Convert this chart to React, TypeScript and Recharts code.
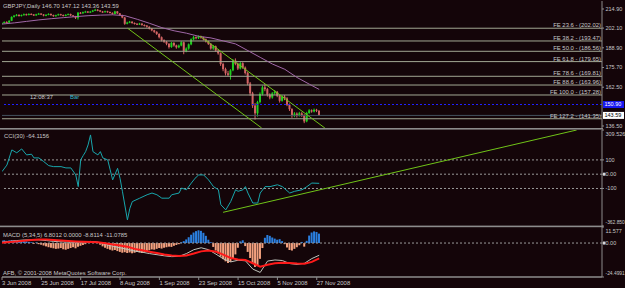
import { ComposedChart, Bar, Line, XAxis, YAxis, ReferenceLine, Cell } from 'recharts'

// daily GBPJPY bars, 3 Jun 2008 .. 28 Nov 2008 (index = bar number)
const opens = [
  205.0, 205.6, 206.2, 205.8, 207.0, 209.6, 210.4, 211.0, 210.2, 210.8,
  211.4, 210.9, 211.6, 211.2, 210.6, 211.3, 211.8, 211.2, 210.5, 211.0,
  211.6, 210.8, 210.1, 210.7, 211.4, 210.9, 210.3, 211.0, 211.5, 210.6,
  210.0, 209.0, 212.4, 212.0, 212.8, 213.2, 212.6, 213.1, 213.8, 214.4,
  213.9, 213.2, 212.8, 213.4, 212.9, 212.3, 211.6, 213.3, 212.0, 210.8,
  209.2, 205.0, 205.8, 206.4, 205.5, 205.0, 204.6, 205.1, 204.2, 203.8,
  203.0, 201.8, 200.6, 199.6, 198.2, 196.0, 194.0, 193.0, 191.6, 189.4,
  192.2, 190.5, 189.2, 190.4, 192.6, 186.8, 188.4, 191.2, 194.6, 196.0,
  195.4, 196.6, 195.8, 194.6, 193.2, 191.6, 188.4, 189.9, 187.0, 185.2,
  178.0, 174.6, 171.8, 170.8, 173.8, 180.4, 178.2, 175.0, 178.6, 175.6,
  172.0, 165.0, 158.4, 150.2, 145.0, 152.5, 158.0, 162.4, 161.2, 157.5,
  155.6, 158.4, 159.4, 156.8, 153.4, 156.2, 155.0, 150.8, 147.8, 143.4,
  144.8, 143.2, 145.0, 143.8, 139.6, 145.2, 147.0, 146.2, 147.4, 146.7,
]
const highs = [
  206.0, 206.6, 206.7, 207.4, 210.0, 210.9, 211.5, 211.3, 211.2, 211.9,
  211.8, 212.0, 212.0, 211.5, 211.7, 212.3, 212.1, 211.5, 211.4, 212.0,
  211.9, 211.1, 211.1, 211.8, 211.7, 211.2, 211.4, 211.9, 211.8, 210.9,
  210.3, 212.9, 212.9, 213.2, 213.7, 213.5, 213.6, 214.3, 215.0, 214.8,
  214.2, 213.6, 213.8, 213.7, 213.2, 212.6, 213.7, 213.5, 212.2, 211.1,
  209.5, 206.4, 206.9, 206.7, 205.9, 205.4, 205.6, 205.4, 204.6, 204.1,
  203.3, 202.2, 201.0, 200.0, 198.6, 196.5, 194.6, 193.5, 192.0, 192.8,
  192.6, 191.0, 191.1, 193.3, 193.0, 189.2, 191.8, 195.2, 196.8, 196.6,
  197.2, 197.0, 196.3, 195.1, 193.7, 192.1, 190.8, 190.4, 187.8, 185.8,
  178.9, 175.6, 173.4, 174.6, 181.4, 181.8, 179.0, 179.4, 179.2, 176.4,
  172.8, 166.0, 159.4, 151.8, 153.4, 159.0, 163.6, 164.4, 162.0, 158.4,
  159.2, 160.6, 160.0, 157.6, 157.0, 157.2, 155.8, 151.6, 148.4, 145.8,
  145.6, 146.0, 145.8, 144.4, 146.0, 147.8, 147.6, 148.2, 148.0, 147.12,
]
const lows = [
  204.5, 205.2, 205.3, 205.5, 206.8, 209.2, 210.0, 209.8, 209.9, 210.5,
  210.5, 210.6, 210.8, 210.2, 210.3, 211.0, 210.9, 210.0, 210.1, 210.7,
  210.4, 209.7, 209.8, 210.4, 210.5, 209.9, 210.0, 210.7, 210.2, 209.5,
  208.2, 207.8, 211.5, 211.7, 212.4, 212.2, 212.3, 212.8, 213.5, 213.4,
  212.8, 212.3, 212.5, 212.4, 211.9, 211.1, 211.3, 211.6, 210.3, 208.7,
  204.3, 204.6, 205.4, 205.0, 204.5, 204.1, 204.2, 203.7, 203.2, 202.4,
  201.2, 200.0, 198.9, 197.5, 195.2, 193.2, 192.2, 190.6, 188.4, 188.9,
  189.7, 188.3, 188.6, 189.9, 184.6, 185.9, 187.6, 190.6, 193.9, 194.6,
  194.8, 195.0, 193.9, 192.4, 190.8, 187.6, 187.5, 186.2, 184.3, 176.8,
  173.2, 170.4, 169.8, 167.6, 173.2, 177.2, 174.0, 174.4, 174.8, 171.0,
  163.8, 156.8, 148.6, 140.8, 142.8, 151.6, 157.0, 159.8, 156.2, 154.4,
  154.8, 157.4, 155.8, 152.2, 152.8, 153.8, 149.8, 146.6, 142.0, 142.4,
  142.2, 142.8, 142.6, 138.4, 139.0, 144.6, 145.4, 145.6, 145.8, 143.36,
]
const closes = [
  205.6, 206.2, 205.8, 207.0, 209.6, 210.4, 211.0, 210.2, 210.8, 211.4,
  210.9, 211.6, 211.2, 210.6, 211.3, 211.8, 211.2, 210.5, 211.0, 211.6,
  210.8, 210.1, 210.7, 211.4, 210.9, 210.3, 211.0, 211.5, 210.6, 210.0,
  209.0, 212.4, 212.0, 212.8, 213.2, 212.6, 213.1, 213.8, 214.4, 213.9,
  213.2, 212.8, 213.4, 212.9, 212.3, 211.6, 213.3, 212.0, 210.8, 209.2,
  205.0, 205.8, 206.4, 205.5, 205.0, 204.6, 205.1, 204.2, 203.8, 203.0,
  201.8, 200.6, 199.6, 198.2, 196.0, 194.0, 193.0, 191.6, 189.4, 192.2,
  190.5, 189.2, 190.4, 192.6, 186.8, 188.4, 191.2, 194.6, 196.0, 195.4,
  196.6, 195.8, 194.6, 193.2, 191.6, 188.4, 189.9, 187.0, 185.2, 178.0,
  174.6, 171.8, 170.8, 173.8, 180.4, 178.2, 175.0, 178.6, 175.6, 172.0,
  165.0, 158.4, 150.2, 145.0, 152.5, 158.0, 162.4, 161.2, 157.5, 155.6,
  158.4, 159.4, 156.8, 153.4, 156.2, 155.0, 150.8, 147.8, 143.4, 144.8,
  143.2, 145.0, 143.8, 139.6, 145.2, 147.0, 146.2, 147.4, 146.7, 143.59,
]

// moving average, read every few bars
const maBars = [0, 5, 10, 15, 20, 25, 30, 35, 40, 45, 50, 55, 60, 65, 70, 75, 80, 85, 90, 95, 100, 105, 110, 115, 120, 125, 129]
const maValues = [204.8, 205.6, 206.6, 207.6, 208.4, 209.1, 209.8, 210.4, 210.8, 211.0, 210.4, 208.0, 205.3, 202.4, 200.3, 198.7, 196.6, 195.5, 193.5, 191.5, 187.0, 182.5, 178.0, 174.5, 169.0, 164.5, 161.0]

// CCI(30)
const cciBars = [0, 2, 4, 6, 8, 10, 12, 13, 15, 17, 19, 21, 24, 26, 28, 30, 31, 32, 33, 34, 35, 36, 37, 39, 40, 41, 43, 44, 45, 47, 48, 49, 51, 52, 53, 56, 59, 61, 63, 65, 68, 69, 72, 73, 75, 77, 78, 79, 80, 82, 84, 86, 88, 89, 91, 93, 95, 96, 98, 99, 100, 102, 104, 105, 107, 109, 112, 114, 117, 119, 122, 124, 126, 129]
const cciValues = [18, 64, 170, 150, 177, 135, 140, 114, 114, 88, 60, 53, 53, 44, 44, -5, -87, 100, 130, 158, 205, 275, 158, 135, 158, 114, 100, 30, -40, 41, -29, -123, -320, -239, -192, -168, -144, -132, -144, -168, -168, -144, -132, -97, -109, -62, -40, -20, -5, -5, -40, -87, -109, -214, -250, -192, -109, -120, -109, -87, -132, -202, -202, -132, -87, -87, -74, -87, -132, -120, -109, -87, -62, -64.1]

// MACD(5,34,5)
const macdHist = [
  1.8, 2.0, 1.6, 1.9, 2.2, 2.0, 1.7, 1.5, 1.8, 1.4,
  1.2, 0.8, 0.5, -0.6, 0.4, -0.8, -1.2, -1.8, -2.4, -3.0,
  -3.4, -3.8, -4.2, -4.0, -3.6, -4.4, -4.8, -4.2, -3.6, -3.0,
  -3.8, -2.6, -2.0, -1.4, -0.8, 0.6, 1.0, 1.4, 1.2, 0.4,
  -1.2, -2.4, -3.4, -4.2, -4.8, -5.4, -5.0, -5.8, -6.4, -7.0,
  -6.6, -7.2, -6.8, -7.4, -7.0, -6.4, -6.8, -7.2, -6.6, -5.8,
  -5.2, -4.6, -4.8, -4.2, -3.6, -4.0, -3.4, -3.0, -2.6, -2.8,
  -2.0, -1.4, -0.8, 0.6, 1.4, 2.6, 4.2, 6.0, 7.6, 8.6,
  9.2, 8.8, 7.4, 5.2, 2.4, 0.6, -2.8, -5.4, -7.6, -9.8,
  -11.6, -13.2, -14.4, -13.6, -11.0, -8.2, -3.4, 1.2, 2.0, -2.2,
  -6.4, -10.8, -14.6, -17.2, -16.0, -11.4, -3.6, 3.8, 5.8, 5.2,
  4.0, 3.2, 2.4, 2.8, 1.4, -0.8, -3.2, -5.0, -5.4, -4.2,
  -3.0, -1.6, 0.8, -2.6, 1.6, 5.4, 7.6, 8.4, 8.0, 6.8,
]
const macdStep = 3
const macdMain = [0.6, 1.2, 1.8, 2.2, 2.4, 2.3, 1.8, 1.2, 0.9, 0.6, 0.5, 0.6, 1.2, 0.6, -1.0, -2.2, -3.4, -4.6, -5.8, -6.6, -7.6, -8.4, -9.2, -9.8, -9.6, -7.6, -4.8, -3.4, -4.8, -8.0, -11.4, -13.6, -12.4, -12.8, -18.8, -21.2, -13.0, -12.2, -12.6, -14.8, -15.4, -14.6, -11.2, -8.81]
const macdSignal = [0.3, 0.7, 1.2, 1.7, 2.2, 2.6, 2.5, 2.2, 1.8, 1.5, 1.2, 0.9, 0.7, 0.5, -0.2, -1.0, -1.8, -2.6, -4.2, -5.2, -6.3, -7.2, -8.2, -9.0, -9.4, -9.0, -7.6, -6.0, -5.4, -6.2, -8.4, -10.8, -11.8, -12.2, -14.6, -17.0, -15.6, -14.6, -14.2, -14.4, -14.8, -15.0, -13.6, -11.08]

// fibonacci expansion levels
const feRatios = ['23.6', '38.2', '50.0', '61.8', '78.6', '88.6', '100.0', '127.2']
const fePrices = [202.02, 193.47, 186.56, 179.65, 169.81, 163.96, 157.28, 141.35]

// trend lines (bar index, value)
const channelLow = [{ x: 51.1, y: 202.0 }, { x: 105.6, y: 135.16 }]
const channelHigh = [{ x: 80.5, y: 196.8 }, { x: 131.3, y: 135.16 }]
const cciTrend = [{ x: 89.9, y: -267 }, { x: 233.7, y: 309.5 }]

const priceTicks = [214.9, 202.1, 188.9, 175.7, 162.5, 136.5]
const dateTicks = [0, 16, 32, 48, 64, 80, 96, 112, 128]
const dateLabels = ['3 Jun 2008', '25 Jun 2008', '17 Jul 2008', '8 Aug 2008', '1 Sep 2008', '23 Sep 2008', '15 Oct 2008', '5 Nov 2008', '27 Nov 2008']

const bidPrice = 143.59
const alertPrice = 150.9

const BG = '#140509'
const TXT = '#c8c8c8'
const FONT = '"Liberation Sans", Arial, sans-serif'
const FS = 5.9
const AFS = 5.5
const BULL = '#1fd01f'
const BEAR = '#d26464'
const AXIS = '#8c8c8c'
const XDOMAIN: [number, number] = [0, 244]

const candleRows = closes.map((c, i) => ({ i, o: opens[i], h: highs[i], l: lows[i], c, range: [lows[i], highs[i]] }))
const maRows = maBars.map((i, k) => ({ i, ma: maValues[k] }))
const cciRows = cciBars.map((i, k) => ({ i, cci: cciValues[k] }))
const histRows = macdHist.map((v, i) => ({ i, hist: v }))
const macdRows = macdMain.map((v, k) => ({ i: k * macdStep, main: v, signal: macdSignal[k] }))

function Candle(props: any) {
  const { x, y, width, height, payload } = props
  if (!payload || height == null || isNaN(y)) return null
  const { o, h, l, c } = payload
  const cx = x + width / 2
  const span = h - l || 1
  const py = (v: number) => y + ((h - v) / span) * height
  const top = py(Math.max(o, c))
  const bot = py(Math.min(o, c))
  const col = c >= o ? BULL : BEAR
  return (
    <g>
      <line x1={cx} x2={cx} y1={y} y2={y + height} stroke={col} strokeWidth={1} />
      <rect x={cx - 1} y={top} width={2} height={Math.max(1, bot - top)} fill={col} />
    </g>
  )
}

function PriceTag(props: any) {
  const { viewBox, text, bg, fg } = props
  if (!viewBox) return null
  const x = viewBox.x + viewBox.width + 1
  const y = viewBox.y
  return (
    <g>
      <rect x={x} y={y - 3.5} width={21} height={7} fill={bg} />
      <text x={x + 1.5} y={y} dy="0.35em" fontSize={AFS} fontFamily={FONT} fill={fg}>{text}</text>
    </g>
  )
}

function SideTick(props: any) {
  const { x, y, payload, lo, hi, digits } = props
  const v = payload.value
  let shift = 0
  if (v === hi) shift = 4
  if (v === lo) shift = -4
  const label = v === 0 ? '0.00' : Math.abs(v) === 100 ? String(v) : v.toFixed(digits(v))
  const fs = label.length > 7 ? 4.9 : AFS
  return (
    <g>
      {v === 0 && <rect x={603} y={y - 1.5} width={2.5} height={3} fill="#d8d8d8" />}
      <text x={x} y={y + shift} dy="0.35em" textAnchor="start" fontSize={fs} fontFamily={FONT} fill={TXT}>{label}</text>
    </g>
  )
}

function DateTick(props: any) {
  const { x, y, payload } = props
  const k = dateTicks.indexOf(payload.value)
  return (
    <text x={x} y={y} dy="0.71em" textAnchor="start" fontSize={FS} fontFamily={FONT} fill={TXT}>{dateLabels[k]}</text>
  )
}

const labelStyle = { fill: TXT, fontSize: FS, fontFamily: FONT }
const axisTickStyle = { fill: TXT, fontSize: AFS, fontFamily: FONT }

export default function App() {
  return (
    <div style={{ position: 'absolute', left: 0, top: 0, width: 625, height: 288, background: BG, overflow: 'hidden' }}>
      <div style={{ position: 'absolute', left: 0, top: 0 }}>
        <ComposedChart width={625} height={129} data={candleRows} margin={{ top: 1, right: 0, bottom: 1, left: 2 }}>
          <XAxis type="number" dataKey="i" domain={XDOMAIN} hide allowDataOverflow />
          <YAxis orientation="right" width={23} domain={[135.16, 220.26]} allowDataOverflow ticks={priceTicks} interval={0}
            tickFormatter={(v: number) => v.toFixed(2)} tick={axisTickStyle} tickSize={2} tickMargin={1.5}
            axisLine={{ stroke: AXIS }} tickLine={{ stroke: AXIS }} />
          {feRatios.map((r, k) => (
            <ReferenceLine key={r} y={fePrices[k]} stroke="#a3a894" strokeWidth={1}
              label={{ value: `FE ${r} - (${fePrices[k].toFixed(2)})`, position: 'insideBottomRight', offset: 1, ...labelStyle }} />
          ))}
          <ReferenceLine y={bidPrice} stroke="#44525f" strokeWidth={1}
            label={<PriceTag text={bidPrice.toFixed(2)} bg="#ffffff" fg="#000000" />} />
          <ReferenceLine y={alertPrice} stroke="#2020ff" strokeDasharray="2 2"
            label={<PriceTag text={alertPrice.toFixed(2)} bg="#1818f0" fg="#ffffff" />} />
          <Line data={maRows} dataKey="ma" stroke="#a068a8" strokeWidth={1} dot={false} activeDot={false} isAnimationActive={false} />
          <Bar dataKey="range" barSize={2} shape={(p: any) => <Candle {...p} />} isAnimationActive={false} />
          <ReferenceLine segment={channelLow} stroke="#70c418" strokeWidth={1} ifOverflow="hidden" />
          <ReferenceLine segment={channelHigh} stroke="#70c418" strokeWidth={1} ifOverflow="hidden" />
        </ComposedChart>
      </div>

      <div style={{ position: 'absolute', left: 0, top: 129 }}>
        <ComposedChart width={625} height={98} margin={{ top: 1, right: 0, bottom: 1, left: 2 }}>
          <XAxis type="number" dataKey="i" domain={XDOMAIN} hide allowDataOverflow />
          <YAxis orientation="right" width={23} domain={[-362.85, 309.526]} allowDataOverflow
            ticks={[309.526, 100, 0, -100, -362.85]} interval={0} tickSize={2} tickMargin={1.5}
            tick={(p: any) => <SideTick {...p} lo={-362.85} hi={309.526} digits={() => 3} />}
            axisLine={{ stroke: AXIS }} tickLine={{ stroke: AXIS }} />
          {[100, 0, -100].map((v) => (
            <ReferenceLine key={v} y={v} stroke="#9a9a9a" strokeDasharray="2 2" />
          ))}
          <Line data={cciRows} dataKey="cci" stroke="#18a6ac" strokeWidth={1} dot={false} activeDot={false} isAnimationActive={false} />
          <ReferenceLine segment={cciTrend} stroke="#70c418" strokeWidth={1} ifOverflow="hidden" />
        </ComposedChart>
      </div>

      <div style={{ position: 'absolute', left: 0, top: 226 }}>
        <ComposedChart width={625} height={62} data={histRows} margin={{ top: 1, right: 0, bottom: 0, left: 2 }}>
          <XAxis type="number" dataKey="i" domain={XDOMAIN} allowDataOverflow ticks={dateTicks} interval={0}
            height={11} tickSize={3} tickMargin={1} tick={(p: any) => <DateTick {...p} />}
            axisLine={{ stroke: AXIS, strokeWidth: 1.5 }} tickLine={{ stroke: AXIS }} />
          <YAxis orientation="right" width={23} domain={[-24.4991, 11.577]} allowDataOverflow
            ticks={[11.577, 0, -24.4991]} interval={0} tickSize={2} tickMargin={1.5}
            tick={(p: any) => <SideTick {...p} lo={-24.4991} hi={11.577} digits={(v: number) => (v < 0 ? 4 : 3)} />}
            axisLine={{ stroke: AXIS }} tickLine={{ stroke: AXIS }} />
          <ReferenceLine y={0} stroke="#9a9a9a" strokeDasharray="2 2" />
          <Bar dataKey="hist" barSize={2} isAnimationActive={false}>
            {histRows.map((r) => (
              <Cell key={r.i} fill={r.hist >= 0 ? '#2a7fe0' : '#f2a07e'} />
            ))}
          </Bar>
          <Line data={macdRows} dataKey="main" stroke="#c0c4bc" strokeWidth={1} dot={false} activeDot={false} isAnimationActive={false} />
          <Line data={macdRows} dataKey="signal" stroke="#ff1a1a" strokeWidth={2} dot={false} activeDot={false} isAnimationActive={false} />
        </ComposedChart>
      </div>

      <svg width={625} height={288} style={{ position: 'absolute', left: 0, top: 0, pointerEvents: 'none' }}>
        <rect x={0} y={128} width={603} height={1.6} fill={AXIS} />
        <rect x={0} y={225.6} width={603} height={1.6} fill={AXIS} />
        <g fontFamily={FONT} fontSize={FS} fill={TXT}>
          <text x={3} y={8}>GBPJPY,Daily  146.70 147.12 143.36 143.59</text>
          <text x={30} y={98.5}>12:08:37</text>
          <text x={70} y={98.5} fill="#36b8c8">Bar</text>
          <text x={4} y={138}>CCI(30) -64.1156</text>
          <text x={3} y={236.5}>MACD (5,34,5) 6.8012 0.0000 -8.8114 -11.0785</text>
          <text x={3} y={275}>AFB, © 2001-2008 MetaQuotes Software Corp.</text>
        </g>
      </svg>
    </div>
  )
}
